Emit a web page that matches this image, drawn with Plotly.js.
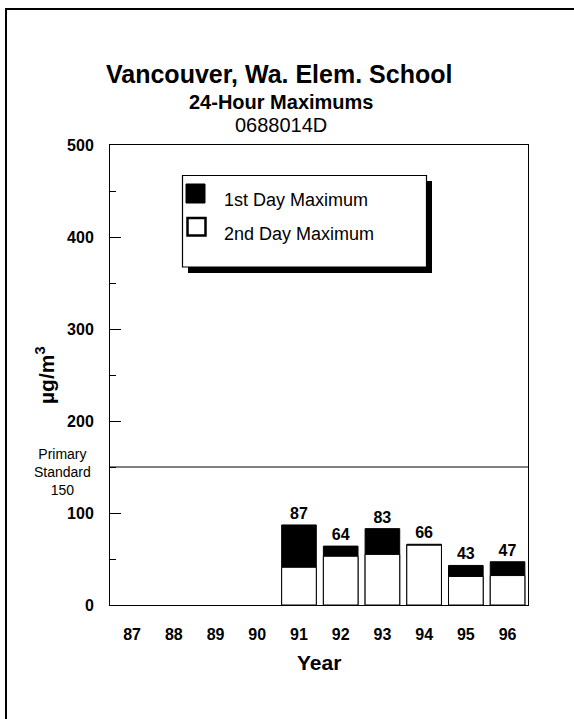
<!DOCTYPE html>
<html>
<head>
<meta charset="utf-8">
<script src="https://cdn.plot.ly/plotly-3.0.1.min.js"></script>
<style>
html,body{margin:0;padding:0;background:#fff;overflow:hidden;}
#chart{width:574px;height:719px;}
</style>
</head>
<body>
<div id="chart"></div>
<script>
// ---- data ----
const years = ['87','88','89','90','91','92','93','94','95','96'];
const firstDayMax = [null,null,null,null,87,64,83,66,43,47];
const secondDayMax = [null,null,null,null,41,53,55,65,31,32];
const primaryStandard = 150;
const yTickVals = [0,100,200,300,400,500];
const titleText = 'Vancouver, Wa. Elem. School';
const subtitleText = '24-Hour Maximums';
const siteText = '0688014D';
const legendLabels = ['1st Day Maximum','2nd Day Maximum'];

// ---- layout geometry ----
const W = 574, H = 719;
const L = 110, R = 46, T = 145, B = 114;
const pw = W - L - R, ph = H - T - B;
const px = x => (x - L) / pw;
const py = y => (H - B - y) / ph;
const FONT = 'Arial, "Liberation Sans", Helvetica, sans-serif';

// keep only years that have measurements (axis still lists all years)
const idx = years.map((_, i) => i).filter(i => firstDayMax[i] != null);
const xs = idx.map(i => years[i]);
const y1 = idx.map(i => firstDayMax[i]);
const y2 = idx.map(i => secondDayMax[i]);

const traces = [
  {
    type: 'bar', x: xs, y: y1, name: legendLabels[0],
    marker: {color: '#000', line: {color: '#000', width: 1}},
    width: 0.83,
    text: y1.map(String),
    texttemplate: '<b>%{text}</b>',
    textposition: 'outside', cliponaxis: false,
    textfont: {family: FONT, size: 16, color: '#000'},
    hoverinfo: 'x+y'
  },
  {
    type: 'bar', x: xs, y: y2, name: legendLabels[1],
    marker: {color: '#fff', line: {color: '#000', width: 1}},
    width: 0.83,
    hoverinfo: 'x+y'
  }
];

const shapes = [
  // primary standard line
  {type: 'line', xref: 'paper', yref: 'y', x0: 0, x1: 1, y0: primaryStandard, y1: primaryStandard,
   line: {color: '#000', width: 1}},
  // outer frame (left and top edges)
  {type: 'line', xref: 'paper', yref: 'paper', x0: px(6), x1: px(6), y0: py(8), y1: py(740),
   line: {color: '#000', width: 2}},
  {type: 'line', xref: 'paper', yref: 'paper', x0: px(5), x1: px(600), y0: py(9), y1: py(9),
   line: {color: '#000', width: 2}},
  // legend shadow and box
  {type: 'rect', xref: 'paper', yref: 'paper', x0: px(188), x1: px(432), y0: py(181), y1: py(273),
   fillcolor: '#000', line: {width: 0}, layer: 'above'},
  {type: 'rect', xref: 'paper', yref: 'paper', x0: px(182.5), x1: px(426.5), y0: py(175.5), y1: py(267),
   fillcolor: '#fff', line: {color: '#000', width: 1.2}, layer: 'above'},
  // legend swatches
  {type: 'rect', xref: 'paper', yref: 'paper', x0: px(186), x1: px(205), y0: py(184), y1: py(203),
   fillcolor: '#000', line: {color: '#000', width: 1}, layer: 'above'},
  {type: 'rect', xref: 'paper', yref: 'paper', x0: px(187.5), x1: px(205.5), y0: py(218), y1: py(235.5),
   fillcolor: '#fff', line: {color: '#000', width: 2.5}, layer: 'above'}
];

const ann = (text, x, y, size, bold, extra) => Object.assign({
  text: bold ? '<b>' + text + '</b>' : text,
  xref: 'paper', yref: 'paper', x: px(x), y: py(y),
  xanchor: 'center', yanchor: 'middle', showarrow: false,
  font: {family: FONT, size: size, color: '#000'}
}, extra || {});

const annotations = [
  ann(titleText, 279, 74, 25, true),
  ann(subtitleText, 281, 102, 20, true),
  ann(siteText, 281, 125, 20, false),
  ann('µg/m<sup>3</sup>', 45, 375, 21, true, {textangle: -90}),
  ann('Primary<br>Standard<br>150', 62, 472, 14, false),
  ann('Year', 319, 662, 21, true),
  ann(legendLabels[0], 222, 200, 18, false, {xanchor: 'left'}),
  ann(legendLabels[1], 222, 233.5, 18, false, {xanchor: 'left'})
];

const layout = {
  width: W, height: H,
  margin: {l: L, r: R, t: T, b: B, pad: 0},
  paper_bgcolor: '#fff', plot_bgcolor: '#fff',
  showlegend: false,
  barmode: 'overlay',
  font: {family: FONT, color: '#000'},
  xaxis: {
    type: 'category', categoryorder: 'array', categoryarray: years, range: [-0.53, 9.49],
    showline: true, linecolor: '#000', linewidth: 1, mirror: true,
    ticks: '', showgrid: false, zeroline: false,
    tickfont: {family: FONT, size: 16, color: '#000', weight: 'bold'},
    ticklabelstandoff: 15
  },
  yaxis: {
    range: [0, 500], tickvals: yTickVals,
    showline: true, linecolor: '#000', linewidth: 1, mirror: true,
    ticks: 'inside', ticklen: 11, tickcolor: '#000', tickwidth: 1,
    minor: {dtick: 50, ticks: 'inside', ticklen: 6, tickcolor: '#000', tickwidth: 1, showgrid: false},
    showgrid: false, zeroline: false,
    tickfont: {family: FONT, size: 16, color: '#000', weight: 'bold'},
    ticklabelstandoff: 12
  },
  shapes: shapes,
  annotations: annotations
};

Plotly.newPlot('chart', traces, layout, {displayModeBar: false, staticPlot: true});
</script>
</body>
</html>
